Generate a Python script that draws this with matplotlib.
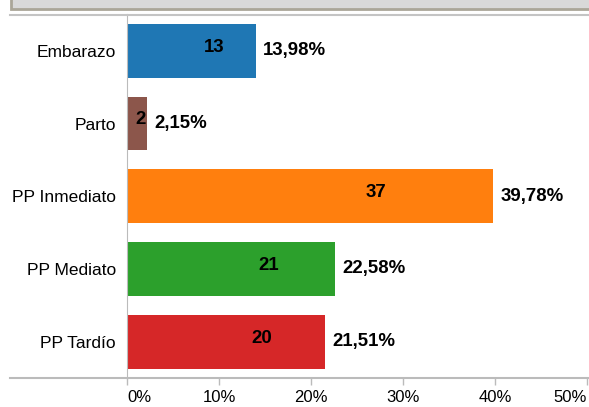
import matplotlib.pyplot as plt
from matplotlib.lines import Line2D
from matplotlib.patches import Rectangle

# DATA
categories = ['Embarazo', 'Parto', 'PP Inmediato', 'PP Mediato', 'PP Tardío']
counts = [13, 2, 37, 21, 20]
percents = [13.98, 2.15, 39.78, 22.58, 21.51]
colors = ['#1f77b4', '#8c564b', '#ff7f0e', '#2ca02c', '#d62728']
ticks = [0, 10, 20, 30, 40, 50]

plt.rcParams['font.family'] = ['Liberation Sans', 'DejaVu Sans']

fig = plt.figure(figsize=(5.89, 4.07), dpi=100)
ax = fig.add_axes([127 / 589, 29 / 407, 460 / 589, 363.5 / 407])

y = list(range(len(categories)))
ax.barh(y, percents, height=0.74, color=colors)
ax.set_ylim(len(categories) - 0.5, -0.5)
ax.set_xlim(0, 50)

for i in y:
    ax.text(percents[i] + 0.8, i, f'{percents[i]:.2f}%'.replace('.', ','),
            va='center', ha='left', fontsize=13.4, fontweight='bold')
    ax.text(percents[i] * 0.68, i - 0.05, str(counts[i]),
            va='center', ha='center', fontsize=13.4, fontweight='bold')

ax.set_yticks(y)
ax.set_yticklabels(categories, fontsize=12.5)
ax.tick_params(axis='y', length=0, pad=8)
ax.set_xticks(ticks)
ax.set_xticklabels([f'{t}%' for t in ticks], fontsize=12)
ax.tick_params(axis='x', length=5, width=1, color='#bbbbbb', pad=3.5)
labels = ax.get_xticklabels()
labels[0].set_ha('left')
labels[-1].set_ha('right')

for s in ['top', 'right', 'bottom']:
    ax.spines[s].set_visible(False)
ax.spines['left'].set_color('#bbbbbb')

# table-like borders and top panel
fig.add_artist(Line2D([10 / 589, 1], [1 - 14.5 / 407] * 2, color='#c4c4c4', lw=1.5))
fig.add_artist(Line2D([10 / 589, 1], [29 / 407] * 2, color='#bbbbbb', lw=1.5))
fig.add_artist(Rectangle((10.5 / 589, 1 - 8.5 / 407), 1, 0.05, facecolor='#d9d9d9',
                         edgecolor='#aaa698', lw=2))

fig.savefig('out.png', dpi=100)
